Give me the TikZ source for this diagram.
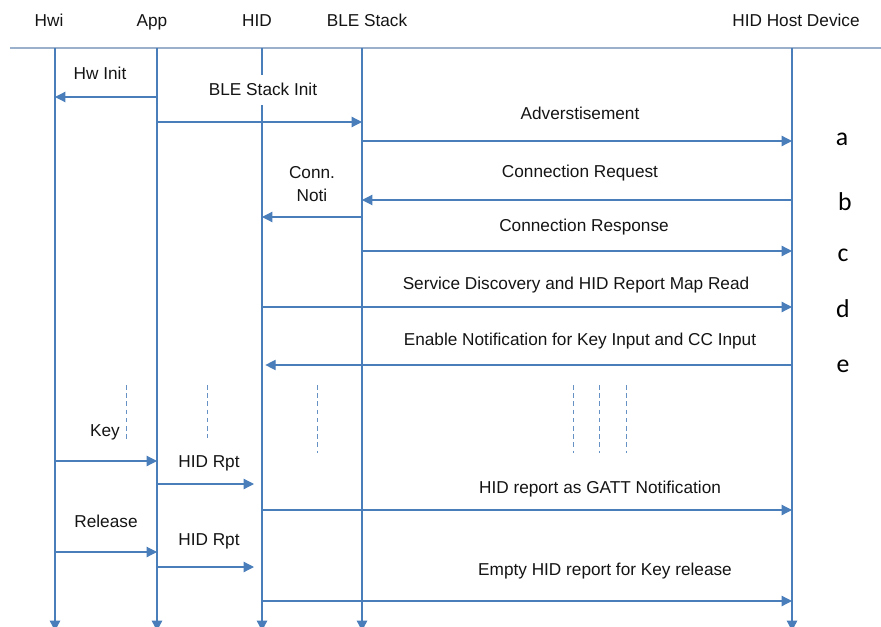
\documentclass[tikz,border=0pt]{standalone}
\usepackage{fontspec}
\setmainfont{Liberation Sans}
\newfontfamily\letterfont{Carlito}
\usetikzlibrary{arrows.meta}
\definecolor{seqblue}{HTML}{4A7EBB}
\definecolor{headline}{HTML}{9AB0CB}
\tikzset{
	>={Triangle[length=3.1mm,width=3.1mm]}, % filled triangle heads
	lifeline/.style={draw=seqblue, line width=1.1pt, ->}, % vertical line of each part
	msg/.style={draw=seqblue, line width=1pt, ->}, % a message between two parts
	lbl/.style={font=\fontsize{14.7}{17}\selectfont, text=black!92, inner sep=0pt, anchor=base},
	tag/.style={font=\letterfont\fontsize{22}{26}\selectfont, inner sep=0pt, anchor=base},
	dashline/.style={draw=seqblue!85, line width=0.8pt, dash pattern=on 4pt off 3pt},
}

\begin{document}
\begin{tikzpicture}[x=0.03cm, y=-0.03cm]
	\useasboundingbox (0,0) rectangle (881,627);
	% header
	\node[lbl] (hwiH) at (49,27) {Hwi};
	\node[lbl] (appH) at (152,27) {App};
	\node[lbl] (hidH) at (257,27) {HID};
	\node[lbl] (bleH) at (367,27) {BLE Stack};
	\node[lbl] (hostH) at (796,27) {HID Host Device};
	\draw[headline, line width=1.2pt] (10,48) -- (881,48);
	% lifelines
	\foreach \n/\x in {hwi/55, app/157, hid/262, ble/362, host/792} {
		\coordinate (\n) at (\x,48);
		\coordinate (\n-end) at (\x,631);
		\draw[lifeline] (\n) -- (\n-end);
	}
	% labels
	\node[lbl] (hwinit) at (100,80) {Hw Init};
	\node[lbl, fill=white, inner xsep=1mm, inner ysep=2.7mm] (bleinit) at (263,96) {BLE Stack Init};
	\node[lbl] (advert) at (580,120) {Adverstisement};
	\node[lbl, align=center, anchor=north, font=\fontsize{14.7}{20}\selectfont] (connnoti) at (312,166) {Conn.\\Noti};
	\node[lbl] (connreq) at (580,178) {Connection Request};
	\node[lbl] (connrsp) at (584,232) {Connection Response};
	\node[lbl] (discov) at (576,289) {Service Discovery and HID Report Map Read};
	\node[lbl] (enable) at (580,345) {Enable Notification for Key Input and CC Input};
	\node[lbl] (key) at (105,436) {Key};
	\node[lbl] (rpt1) at (209,467) {HID Rpt};
	\node[lbl] (gatt) at (600,493) {HID report as GATT Notification};
	\node[lbl] (release) at (106,527) {Release};
	\node[lbl] (rpt2) at (209,545) {HID Rpt};
	\node[lbl] (empty) at (605,575) {Empty HID report for Key release};
	% step letters
	\node[tag] (ta) at (842,146) {a};
	\node[tag] (tb) at (845,211) {b};
	\node[tag] (tc) at (843,262) {c};
	\node[tag] (td) at (843,317) {d};
	\node[tag] (te) at (843,372) {e};
	% messages
	\draw	(app |- 0,97) edge[msg] (hwi |- 0,97)
			(app |- 0,122) edge[msg] (ble |- 0,122)
			(ble |- 0,141) edge[msg] (host |- 0,141)
			(host |- 0,200) edge[msg] (ble |- 0,200)
			(ble |- 0,217) edge[msg] (hid |- 0,217)
			(ble |- 0,251) edge[msg] (host |- 0,251)
			(hid |- 0,307) edge[msg] (host |- 0,307)
			(host |- 0,365) edge[msg, shorten >=1mm] (hid |- 0,365)
			(hwi |- 0,461) edge[msg] (app |- 0,461)
			(app |- 0,484) edge[msg, shorten >=2.4mm] (hid |- 0,484)
			(hid |- 0,510) edge[msg] (host |- 0,510)
			(hwi |- 0,552) edge[msg] (app |- 0,552)
			(app |- 0,567) edge[msg, shorten >=2.4mm] (hid |- 0,567)
			(hid |- 0,601) edge[msg] (host |- 0,601);
	% waiting marks
	\foreach \x/\ya/\yb in {126/385/440, 207/385/438, 317/385/453, 573/385/453, 599/385/453, 626/385/453}
		\draw[dashline] (\x,\ya) -- (\x,\yb);
\end{tikzpicture}
\end{document}
